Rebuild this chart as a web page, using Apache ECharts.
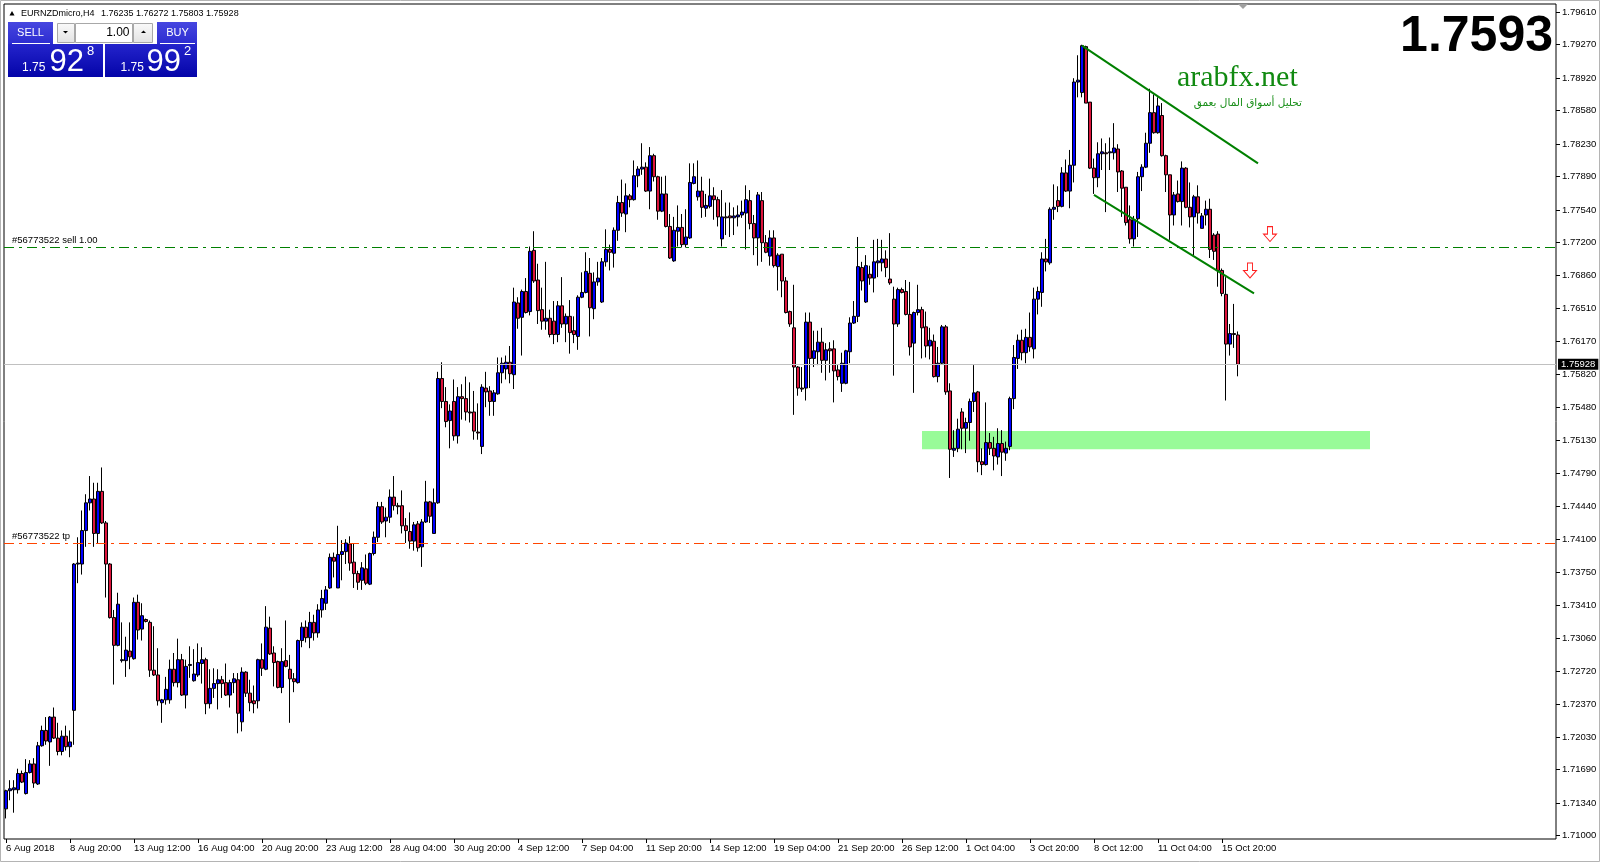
<!DOCTYPE html>
<html><head><meta charset="utf-8">
<script src="https://cdn.jsdelivr.net/npm/echarts@6/dist/echarts.min.js"></script>
<style>html,body{margin:0;padding:0;background:#fff}#c{width:1600px;height:862px}</style>
</head><body><div id="c"></div>
<script>
// ---------- data ----------
const symbolName = 'EURNZDmicro,H4';
const headerOHLC = '1.76235 1.76272 1.75803 1.75928';
const opens = [
1.7128,1.7147,1.7148,1.7148,1.7165,1.7144,1.7166,1.7175,1.7154,1.7194,
1.7210,1.7198,1.7224,1.7202,1.7188,1.7204,1.7193,1.7231,1.7384,1.7384,
1.7419,1.7448,1.7452,1.7416,1.7460,1.7427,1.7384,1.7328,1.7299,1.7283,
1.7283,1.7293,1.7285,1.7344,1.7316,1.7326,1.7323,1.7273,1.7268,1.7239,
1.7242,1.7242,1.7274,1.7260,1.7284,1.7247,1.7278,1.7262,1.7268,1.7280,
1.7284,1.7238,1.7254,1.7259,1.7263,1.7260,1.7247,1.7260,1.7263,1.7219,
1.7271,1.7249,1.7241,1.7241,1.7284,1.7274,1.7317,1.7291,1.7282,1.7255,
1.7283,1.7274,1.7264,1.7260,1.7304,1.7318,1.7307,1.7323,1.7312,1.7336,
1.7343,1.7359,1.7391,1.7359,1.7394,1.7397,1.7405,1.7386,1.7374,1.7367,
1.7379,1.7363,1.7395,1.7412,1.7444,1.7429,1.7433,1.7454,1.7445,1.7445,
1.7424,1.7418,1.7408,1.7426,1.7402,1.7428,1.7449,1.7416,1.7448,1.7578,
1.7554,1.7534,1.7554,1.7518,1.7559,1.7557,1.7543,1.7543,1.7522,1.7507,
1.7568,1.7565,1.7554,1.7562,1.7584,1.7588,1.7595,1.7582,1.7657,1.7642,
1.7669,1.7648,1.7712,1.7681,1.7650,1.7638,1.7641,1.7638,1.7624,1.7654,
1.7635,1.7643,1.7628,1.7622,1.7663,1.7668,1.7688,1.7651,1.7679,1.7658,
1.7700,1.7713,1.7709,1.7733,1.7762,1.7750,1.7769,1.7765,1.7790,1.7797,
1.7799,1.7774,1.7811,1.7789,1.7753,1.7771,1.7737,1.7701,1.7732,1.7736,
1.7718,1.7725,1.7782,1.7768,1.7774,1.7756,1.7758,1.7769,1.7765,1.7724,
1.7747,1.7748,1.7746,1.7747,1.7749,1.7751,1.7764,1.7740,1.7725,1.7764,
1.7720,1.7706,1.7725,1.7695,1.7708,1.7680,1.7648,1.7631,1.7590,1.7568,
1.7568,1.7637,1.7599,1.7606,1.7616,1.7597,1.7609,1.7609,1.7587,1.7573,
1.7573,1.7606,1.7636,1.7643,1.7694,1.7658,1.7687,1.7683,1.7699,1.7699,
1.7703,1.7682,1.7661,1.7635,1.7671,1.7669,1.7645,1.7615,1.7647,1.7650,
1.7632,1.7612,1.7617,1.7580,1.7594,1.7632,1.7565,1.7503,1.7505,1.7543,
1.7526,1.7532,1.7554,1.7564,1.7491,1.7488,1.7511,1.7505,1.7496,1.7510,
1.7500,1.7507,1.7557,1.7599,1.7618,1.7605,1.7621,1.7609,1.7661,1.7668,
1.7703,1.7699,1.7755,1.7764,1.7758,1.7793,1.7774,1.7801,1.7888,1.7877,
1.7925,1.7867,1.7798,1.7788,1.7813,1.7814,1.7814,1.7814,1.7818,1.7795,
1.7778,1.7744,1.7724,1.7745,1.7789,1.7799,1.7824,1.7856,1.7835,1.7853,
1.7811,1.7791,1.7749,1.7771,1.7763,1.7798,1.7757,1.7747,1.7768,1.7735,
1.7749,1.7755,1.7728,1.7729,1.7691,1.7666,1.7614,1.7625,1.76235];
const closes = [
1.7147,1.7149,1.7150,1.7165,1.7156,1.7166,1.7175,1.7155,1.7194,1.7210,
1.7199,1.7224,1.7202,1.7188,1.7204,1.7193,1.7198,1.7384,1.7385,1.7419,
1.7448,1.7452,1.7416,1.7460,1.7427,1.7384,1.7328,1.7299,1.7342,1.7284,
1.7294,1.7287,1.7344,1.7315,1.7330,1.7324,1.7273,1.7268,1.7241,1.7242,
1.7253,1.7274,1.7260,1.7284,1.7247,1.7277,1.7279,1.7269,1.7281,1.7284,
1.7238,1.7254,1.7259,1.7263,1.7259,1.7247,1.7260,1.7264,1.7228,1.7271,
1.7249,1.7239,1.7238,1.7284,1.7275,1.7318,1.7290,1.7281,1.7255,1.7282,
1.7277,1.7264,1.7261,1.7304,1.7318,1.7307,1.7323,1.7312,1.7336,1.7348,
1.7357,1.7391,1.7387,1.7394,1.7397,1.7406,1.7385,1.7374,1.7365,1.7380,
1.7364,1.7395,1.7412,1.7444,1.7428,1.7433,1.7454,1.7445,1.7444,1.7424,
1.7419,1.7408,1.7425,1.7401,1.7428,1.7449,1.7434,1.7448,1.7578,1.7554,
1.7533,1.7544,1.7518,1.7559,1.7557,1.7543,1.7542,1.7523,1.7521,1.7569,
1.7564,1.7554,1.7563,1.7584,1.7594,1.7595,1.7583,1.7658,1.7641,1.7669,
1.7647,1.7711,1.7680,1.7649,1.7638,1.7641,1.7624,1.7624,1.7654,1.7635,
1.7643,1.7626,1.7624,1.7663,1.7668,1.7690,1.7652,1.7679,1.7683,1.7700,
1.7713,1.7710,1.7733,1.7762,1.7751,1.7769,1.7765,1.7790,1.7797,1.7799,
1.7774,1.7811,1.7789,1.7753,1.7771,1.7737,1.7704,1.7733,1.7736,1.7718,
1.7726,1.7783,1.7789,1.7774,1.7757,1.7759,1.7769,1.7765,1.7747,1.7747,
1.7746,1.7746,1.7748,1.7749,1.7752,1.7765,1.7740,1.7725,1.7770,1.7720,
1.7710,1.7725,1.7696,1.7707,1.7680,1.7647,1.7635,1.7590,1.7568,1.7567,
1.7637,1.7599,1.7607,1.7616,1.7597,1.7608,1.7607,1.7586,1.7580,1.7594,
1.7607,1.7636,1.7643,1.7695,1.7680,1.7696,1.7683,1.7700,1.7701,1.7703,
1.7694,1.7678,1.7635,1.7671,1.7668,1.7645,1.7611,1.7647,1.7650,1.7631,
1.7612,1.7618,1.7580,1.7594,1.7632,1.7564,1.7504,1.7505,1.7525,1.7526,
1.7532,1.7554,1.7563,1.7491,1.7488,1.7511,1.7505,1.7497,1.7510,1.7501,
1.7505,1.7557,1.7600,1.7618,1.7605,1.7621,1.7611,1.7661,1.7669,1.7703,
1.7700,1.7755,1.7757,1.7758,1.7793,1.7774,1.7801,1.7888,1.7890,1.7926,
1.7866,1.7798,1.7788,1.7813,1.7815,1.7813,1.7815,1.7819,1.7794,1.7777,
1.7741,1.7724,1.7744,1.7789,1.7799,1.7824,1.7856,1.7835,1.7863,1.7811,
1.7791,1.7749,1.7770,1.7763,1.7798,1.7757,1.7747,1.7768,1.7751,1.7748,
1.7755,1.7713,1.7711,1.7691,1.7667,1.7614,1.7625,1.7624,1.75928];
const lows = [
1.7118,1.7137,1.7124,1.7144,1.7155,1.7143,1.7165,1.7150,1.7153,1.7193,
1.7195,1.7173,1.7201,1.7184,1.7184,1.7189,1.7182,1.7195,1.7364,1.7373,
1.7402,1.7440,1.7402,1.7406,1.7426,1.7349,1.7327,1.7258,1.7298,1.7281,
1.7266,1.7274,1.7284,1.7305,1.7304,1.7323,1.7266,1.7267,1.7236,1.7218,
1.7237,1.7238,1.7256,1.7255,1.7246,1.7233,1.7265,1.7261,1.7266,1.7259,
1.7227,1.7233,1.7244,1.7232,1.7244,1.7246,1.7234,1.7249,1.7207,1.7209,
1.7245,1.7230,1.7228,1.7233,1.7267,1.7273,1.7289,1.7256,1.7254,1.7249,
1.7276,1.7218,1.7250,1.7259,1.7297,1.7302,1.7296,1.7304,1.7307,1.7328,
1.7336,1.7358,1.7370,1.7359,1.7367,1.7384,1.7377,1.7359,1.7357,1.7357,
1.7362,1.7362,1.7393,1.7407,1.7426,1.7412,1.7427,1.7440,1.7436,1.7416,
1.7406,1.7400,1.7398,1.7397,1.7381,1.7427,1.7427,1.7416,1.7447,1.7547,
1.7527,1.7505,1.7513,1.7510,1.7535,1.7534,1.7532,1.7514,1.7514,1.7499,
1.7548,1.7539,1.7539,1.7561,1.7573,1.7577,1.7573,1.7567,1.7630,1.7602,
1.7646,1.7644,1.7678,1.7635,1.7629,1.7629,1.7621,1.7614,1.7616,1.7631,
1.7616,1.7604,1.7615,1.7608,1.7662,1.7667,1.7622,1.7640,1.7675,1.7657,
1.7695,1.7691,1.7694,1.7722,1.7747,1.7731,1.7757,1.7764,1.7778,1.7791,
1.7773,1.7755,1.7784,1.7744,1.7752,1.7736,1.7703,1.7700,1.7716,1.7715,
1.7715,1.7724,1.7781,1.7764,1.7746,1.7747,1.7756,1.7744,1.7737,1.7716,
1.7728,1.7726,1.7728,1.7737,1.7746,1.7713,1.7734,1.7707,1.7696,1.7700,
1.7709,1.7696,1.7694,1.7670,1.7663,1.7646,1.7632,1.7540,1.7560,1.7564,
1.7555,1.7568,1.7590,1.7592,1.7584,1.7576,1.7584,1.7553,1.7576,1.7564,
1.7572,1.7594,1.7635,1.7637,1.7670,1.7657,1.7676,1.7668,1.7684,1.7690,
1.7684,1.7676,1.7581,1.7632,1.7667,1.7644,1.7602,1.7563,1.7644,1.7599,
1.7600,1.7598,1.7579,1.7574,1.7593,1.7561,1.7474,1.7496,1.7501,1.7504,
1.7500,1.7513,1.7543,1.7480,1.7477,1.7487,1.7498,1.7482,1.7488,1.7476,
1.7492,1.7503,1.7546,1.7588,1.7597,1.7594,1.7606,1.7599,1.7645,1.7653,
1.7690,1.7697,1.7744,1.7752,1.7757,1.7773,1.7756,1.7783,1.7872,1.7872,
1.7866,1.7797,1.7771,1.7778,1.7796,1.7752,1.7796,1.7807,1.7773,1.7747,
1.7738,1.7719,1.7716,1.7726,1.7774,1.7798,1.7814,1.7834,1.7834,1.7810,
1.7773,1.7723,1.7738,1.7762,1.7738,1.7756,1.7736,1.7707,1.7740,1.7735,
1.7738,1.7704,1.7702,1.7674,1.7664,1.7555,1.7602,1.7610,1.75803];
const highs = [
1.7148,1.7158,1.7158,1.7170,1.7168,1.7180,1.7179,1.7181,1.7198,1.7215,
1.7224,1.7225,1.7234,1.7218,1.7210,1.7215,1.7210,1.7385,1.7412,1.7440,
1.7457,1.7476,1.7469,1.7469,1.7485,1.7429,1.7385,1.7336,1.7354,1.7323,
1.7308,1.7323,1.7349,1.7352,1.7343,1.7327,1.7325,1.7319,1.7296,1.7243,
1.7266,1.7284,1.7291,1.7306,1.7290,1.7284,1.7298,1.7295,1.7301,1.7297,
1.7286,1.7274,1.7275,1.7274,1.7267,1.7280,1.7263,1.7270,1.7270,1.7276,
1.7272,1.7263,1.7257,1.7285,1.7301,1.7340,1.7329,1.7298,1.7283,1.7296,
1.7325,1.7289,1.7270,1.7305,1.7323,1.7325,1.7334,1.7331,1.7342,1.7357,
1.7361,1.7395,1.7396,1.7424,1.7409,1.7410,1.7413,1.7405,1.7377,1.7386,
1.7394,1.7396,1.7418,1.7449,1.7449,1.7443,1.7462,1.7476,1.7448,1.7461,
1.7432,1.7438,1.7428,1.7429,1.7431,1.7471,1.7450,1.7463,1.7585,1.7595,
1.7569,1.7551,1.7577,1.7569,1.7572,1.7580,1.7574,1.7565,1.7552,1.7572,
1.7585,1.7570,1.7566,1.7600,1.7600,1.7602,1.7612,1.7673,1.7663,1.7671,
1.7683,1.7716,1.7732,1.7698,1.7673,1.7700,1.7650,1.7659,1.7659,1.7684,
1.7646,1.7660,1.7643,1.7665,1.7689,1.7710,1.7704,1.7689,1.7700,1.7704,
1.7734,1.7718,1.7736,1.7769,1.7786,1.7782,1.7771,1.7806,1.7800,1.7824,
1.7804,1.7820,1.7813,1.7790,1.7789,1.7790,1.7750,1.7747,1.7759,1.7750,
1.7755,1.7803,1.7803,1.7806,1.7789,1.7771,1.7787,1.7778,1.7768,1.7775,
1.7762,1.7762,1.7757,1.7759,1.7764,1.7780,1.7775,1.7749,1.7773,1.7773,
1.7728,1.7733,1.7733,1.7709,1.7708,1.7684,1.7649,1.7676,1.7591,1.7590,
1.7647,1.7647,1.7628,1.7628,1.7631,1.7615,1.7616,1.7618,1.7592,1.7605,
1.7608,1.7642,1.7659,1.7726,1.7700,1.7707,1.7696,1.7723,1.7724,1.7723,
1.7712,1.7730,1.7674,1.7673,1.7673,1.7681,1.7679,1.7648,1.7676,1.7653,
1.7648,1.7631,1.7624,1.7611,1.7634,1.7634,1.7573,1.7524,1.7536,1.7547,
1.7537,1.7557,1.7592,1.7565,1.7505,1.7553,1.7521,1.7517,1.7526,1.7524,
1.7512,1.7559,1.7613,1.7624,1.7629,1.7630,1.7647,1.7673,1.7674,1.7710,
1.7724,1.7757,1.7781,1.7779,1.7799,1.7807,1.7817,1.7892,1.7916,1.7927,
1.7926,1.7867,1.7808,1.7825,1.7829,1.7824,1.7830,1.7845,1.7823,1.7796,
1.7778,1.7759,1.7748,1.7794,1.7802,1.7835,1.7881,1.7875,1.7872,1.7866,
1.7812,1.7791,1.7773,1.7785,1.7805,1.7799,1.7783,1.7770,1.7780,1.7751,
1.7764,1.7766,1.7730,1.7732,1.7693,1.7684,1.7635,1.7656,1.76272];

const xTickLabels = ['6 Aug 2018','8 Aug 20:00','13 Aug 12:00','16 Aug 04:00','20 Aug 20:00',
  '23 Aug 12:00','28 Aug 04:00','30 Aug 20:00','4 Sep 12:00','7 Sep 04:00','11 Sep 20:00',
  '14 Sep 12:00','19 Sep 04:00','21 Sep 20:00','26 Sep 12:00','1 Oct 04:00','3 Oct 20:00',
  '8 Oct 12:00','11 Oct 04:00','15 Oct 20:00'];
const barsPerLabel = 16;
const totalSlots = 388;
const yTickLabels = ['1.79610','1.79270','1.78920','1.78580','1.78230','1.77890','1.77540',
  '1.77200','1.76860','1.76510','1.76170','1.75820','1.75480','1.75130','1.74790','1.74440',
  '1.74100','1.73750','1.73410','1.73060','1.72720','1.72370','1.72030','1.71690','1.71340','1.71000'];
const yMin = 1.70965, yMax = 1.79696;

const lastPrice = 1.75928;
const sellPrice = 1.7715;
const tpPrice = 1.7406;
const sellLabel = '#56773522 sell 1.00';
const tpLabel = '#56773522 tp';
const zoneBars = [229, 341];
const zonePrices = [1.7504, 1.7523];
const channelUpper = [[269, 1.7926], [313, 1.7803]];
const channelLower = [[272, 1.7770], [312, 1.7667]];
const sellArrows = [[316, 1.7729], [311, 1.7691]];
const bigPrice = '1.7593';
const sellQuote = ['1.75', '92', '8'];
const buyQuote = ['1.75', '99', '2'];
const lotSize = '1.00';
const siteName = 'arabfx.net';
const siteSlogan = 'تحليل أسواق المال بعمق';

// ---------- chart ----------
const FONT = 'Liberation Sans, Arial, sans-serif';
const cats = Array.from({length: totalSlots}, (_, i) => String(i));
const candles = opens.map((o, i) => {
  const c = closes[i];
  return [o, c, Math.min(lows[i], o, c), Math.max(highs[i], o, c)];
});
const showTick = (i) => i % barsPerLabel === 0 && i / barsPerLabel < xTickLabels.length;
const yVals = yTickLabels.map(Number);

const chart = echarts.init(document.getElementById('c'), null, {renderer: 'canvas', width: 1600, height: 862});

const grad = (a, b) => new echarts.graphic.LinearGradient(0, 0, 0, 1, [{offset: 0, color: a}, {offset: 1, color: b}]);

const option = {
  animation: false,
  backgroundColor: '#ffffff',
  grid: {left: 4, top: 4, width: 1552, height: 835, show: true, borderColor: '#000', borderWidth: 1, backgroundColor: 'rgba(0,0,0,0)'},
  xAxis: {
    type: 'category', data: cats, boundaryGap: true,
    axisLine: {show: false},
    axisTick: {show: true, alignWithLabel: true, interval: (i) => showTick(i), length: 4, lineStyle: {color: '#000', width: 1}},
    axisLabel: {interval: (i) => showTick(i), formatter: (v, i) => xTickLabels[i / barsPerLabel] || '',
      align: 'left', margin: 4, color: '#000', fontSize: 9.5, fontFamily: FONT},
    splitLine: {show: false}
  },
  yAxis: {
    type: 'value', position: 'right', min: yMin, max: yMax, scale: true,
    axisLine: {show: false}, splitLine: {show: false},
    axisTick: {show: true, length: 4, customValues: yVals, lineStyle: {color: '#000', width: 1}},
    axisLabel: {customValues: yVals, formatter: (v) => v.toFixed(5), margin: 6, color: '#000', fontSize: 9.5, fontFamily: FONT}
  },
  series: [
    {
      type: 'line', data: [], z: 1, silent: true,
      markArea: {
        silent: true, precision: 5,
        itemStyle: {color: '#98fb98', opacity: 1},
        data: [[{coord: [zoneBars[0], zonePrices[1]]}, {coord: [zoneBars[1], zonePrices[0]]}]]
      }
    },
    {
      type: 'candlestick', data: candles, barWidth: 3, z: 3, silent: true,
      itemStyle: {color: '#0000ff', color0: '#dc143c', borderColor: '#000', borderColor0: '#000', borderColorDoji: '#000', borderWidth: 1},
      markLine: {
        silent: true, symbol: ['none', 'none'], animation: false, precision: 5,
        data: [
          {yAxis: lastPrice, lineStyle: {color: '#c0c0c0', type: 'solid', width: 1},
            label: {show: true, position: 'end', formatter: lastPrice.toFixed(5), color: '#fff', backgroundColor: '#000',
              padding: [1, 3, 0, 3], fontSize: 9.5, fontFamily: FONT, distance: 2}},
          {yAxis: sellPrice, lineStyle: {color: '#008000', type: [10, 5, 3, 5], width: 1},
            label: {show: true, position: 'insideStartTop', formatter: sellLabel, color: '#000', fontSize: 9.5, fontFamily: FONT, distance: [8, 2]}},
          {yAxis: tpPrice, lineStyle: {color: '#ff4500', type: [10, 5, 3, 5], width: 1},
            label: {show: true, position: 'insideStartTop', formatter: tpLabel, color: '#000', fontSize: 9.5, fontFamily: FONT, distance: [8, 2]}},
          [{coord: channelUpper[0], lineStyle: {color: '#008000', width: 2, type: 'solid'}, label: {show: false}}, {coord: channelUpper[1]}],
          [{coord: channelLower[0], lineStyle: {color: '#008000', width: 2, type: 'solid'}, label: {show: false}}, {coord: channelLower[1]}]
        ]
      }
    },
    {
      type: 'scatter', data: sellArrows, z: 6, silent: true,
      symbol: 'path://M4,0 L9,0 L9,7 L13,7 L6.5,14 L0,7 L4,7 Z', symbolSize: [13, 15],
      itemStyle: {color: '#ffffff', borderColor: '#ff2020', borderWidth: 1, opacity: 1}
    }
  ],
  graphic: [
    {type: 'rect', shape: {x: 0.5, y: 0.5, width: 1599, height: 861}, style: {fill: 'none', stroke: '#b4b4b4', lineWidth: 1}, z: 1},
    {type: 'polygon', shape: {points: [[1238, 4], [1248, 4], [1243, 9]]}, style: {fill: '#a0a0a0'}, z: 10},
    // header
    {type: 'polygon', shape: {points: [[9.5, 15.5], [14.5, 15.5], [12, 11]]}, style: {fill: '#000'}, z: 10},
    {type: 'text', x: 21, y: 13.5, style: {text: symbolName, font: '9px ' + FONT, fill: '#000', verticalAlign: 'middle'}, z: 10},
    {type: 'text', x: 101, y: 13.5, style: {text: headerOHLC, font: '9px ' + FONT, fill: '#000', verticalAlign: 'middle'}, z: 10},
    // sell panel
    {type: 'rect', shape: {x: 8, y: 22, width: 45, height: 22}, style: {fill: grad('#4646e0', '#2c2cd0')}, z: 10},
    {type: 'rect', shape: {x: 8, y: 44, width: 95, height: 33}, style: {fill: grad('#2424cc', '#0404a8')}, z: 10},
    {type: 'line', shape: {x1: 12, y1: 43.5, x2: 50, y2: 43.5}, style: {stroke: '#ffffff', lineWidth: 1}, z: 11},
    {type: 'text', x: 30.5, y: 33, style: {text: 'SELL', font: '11px ' + FONT, fill: '#fff', align: 'center', verticalAlign: 'middle'}, z: 11},
    {type: 'text', x: 22, y: 67.5, style: {text: sellQuote[0], font: '12px ' + FONT, fill: '#fff', verticalAlign: 'middle'}, z: 11},
    {type: 'text', x: 49.5, y: 62, style: {text: sellQuote[1], font: '31px ' + FONT, fill: '#fff', verticalAlign: 'middle'}, z: 11},
    {type: 'text', x: 87, y: 51.5, style: {text: sellQuote[2], font: '13px ' + FONT, fill: '#fff', verticalAlign: 'middle'}, z: 11},
    // buy panel
    {type: 'rect', shape: {x: 157, y: 22, width: 40, height: 22}, style: {fill: grad('#4646e0', '#2c2cd0')}, z: 10},
    {type: 'rect', shape: {x: 105, y: 44, width: 92, height: 33}, style: {fill: grad('#2424cc', '#0404a8')}, z: 10},
    {type: 'line', shape: {x1: 160, y1: 43.5, x2: 195, y2: 43.5}, style: {stroke: '#ffffff', lineWidth: 1}, z: 11},
    {type: 'text', x: 177.5, y: 33, style: {text: 'BUY', font: '11px ' + FONT, fill: '#fff', align: 'center', verticalAlign: 'middle'}, z: 11},
    {type: 'text', x: 120.5, y: 67.5, style: {text: buyQuote[0], font: '12px ' + FONT, fill: '#fff', verticalAlign: 'middle'}, z: 11},
    {type: 'text', x: 146.5, y: 62, style: {text: buyQuote[1], font: '31px ' + FONT, fill: '#fff', verticalAlign: 'middle'}, z: 11},
    {type: 'text', x: 184, y: 51.5, style: {text: buyQuote[2], font: '13px ' + FONT, fill: '#fff', verticalAlign: 'middle'}, z: 11},
    // lot controls
    {type: 'rect', shape: {x: 57.5, y: 23.5, width: 17, height: 19}, style: {fill: grad('#fafafa', '#e2e2e2'), stroke: '#a8a8a8', lineWidth: 1}, z: 10},
    {type: 'polygon', shape: {points: [[63, 31], [68, 31], [65.5, 33.5]]}, style: {fill: '#000'}, z: 11},
    {type: 'rect', shape: {x: 75.5, y: 23.5, width: 57, height: 19}, style: {fill: '#fff', stroke: '#a8a8a8', lineWidth: 1}, z: 10},
    {type: 'text', x: 129.5, y: 33, style: {text: lotSize, font: '12px ' + FONT, fill: '#000', align: 'right', verticalAlign: 'middle'}, z: 11},
    {type: 'rect', shape: {x: 133.5, y: 23.5, width: 19, height: 19}, style: {fill: grad('#fafafa', '#e2e2e2'), stroke: '#a8a8a8', lineWidth: 1}, z: 10},
    {type: 'polygon', shape: {points: [[141, 33], [146, 33], [143.5, 30.5]]}, style: {fill: '#000'}, z: 11},
    // big price
    {type: 'text', x: 1553, y: 37, style: {text: bigPrice, font: 'bold 50px ' + FONT, fill: '#000', align: 'right', verticalAlign: 'middle'}, z: 10},
    // watermark
    {type: 'text', x: 1177, y: 78, style: {text: siteName, font: '30px Liberation Serif, serif', fill: '#118a11', verticalAlign: 'middle'}, z: 10},
    {type: 'text', x: 1302, y: 103, style: {text: siteSlogan, font: '10.5px DejaVu Sans, sans-serif', fill: '#1a8f1a', align: 'right', verticalAlign: 'middle'}, z: 10}
  ]
};
chart.setOption(option);
</script>
</body></html>
